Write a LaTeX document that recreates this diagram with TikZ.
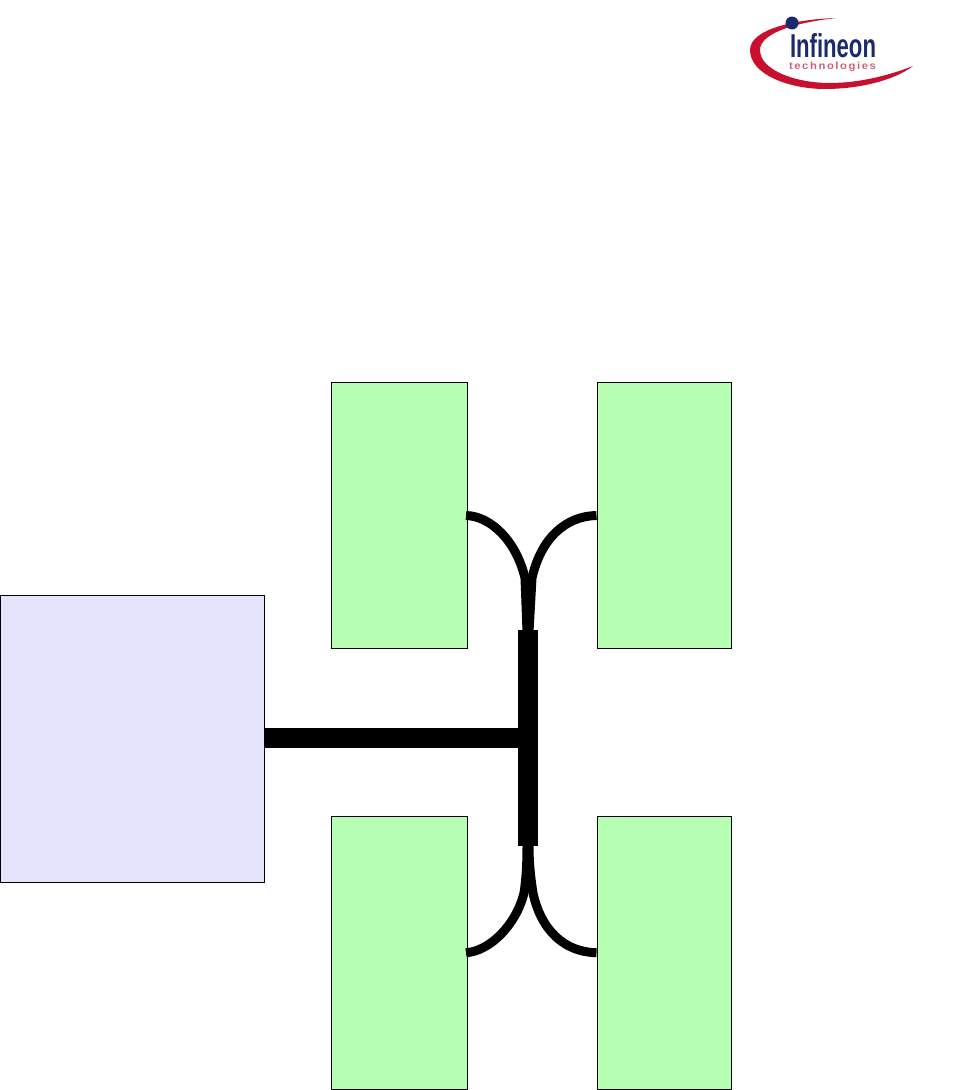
\documentclass[tikz,border=0pt]{standalone}
\usepackage{graphicx}
\usepackage{fontspec}
\setmainfont{Liberation Sans}
\definecolor{mem}{HTML}{B7FFB3}
\definecolor{ctl}{HTML}{E4E4FD}
\definecolor{ifxred}{HTML}{C8102E}
\definecolor{ifxblue}{HTML}{1A2A6C}
\definecolor{ifxtext}{HTML}{D0607A}
\tikzset{
  panel/.style={draw=black,line width=1pt,inner sep=0pt,outer sep=0pt,anchor=north west},
  membox/.style={panel,fill=mem},
  ctlbox/.style={panel,fill=ctl},
  busbar/.style={fill=black,inner sep=0pt,outer sep=0pt,minimum width=20pt,minimum height=216pt},
  mainbus/.style={line width=20pt},
  branch/.style={line width=9pt,line cap=butt,line join=round},
}
\begin{document}
\begin{tikzpicture}[x=1pt,y=-1pt]
\useasboundingbox (0,0) rectangle (955,1090);
\node[ctlbox,minimum width=264pt,minimum height=287pt] (ctrl) at (0.5,595.5) {};
\node[membox,minimum width=136pt,minimum height=266pt] (m1) at (331.5,382.5) {};
\node[membox,minimum width=134pt,minimum height=266pt] (m2) at (597.5,382.5) {};
\node[membox,minimum width=136pt,minimum height=272.5pt] (m3) at (331.5,816.5) {};
\node[membox,minimum width=134pt,minimum height=272.5pt] (m4) at (597.5,816.5) {};
\node[busbar] (bar) at (528,738) {};
\coordinate (topl) at (527,632);
\coordinate (topr) at (529,632);
\coordinate (botl) at (527,846);
\coordinate (botr) at (529,846);
\draw[mainbus] (ctrl.east |- bar.west) -- (bar.west);
\draw[branch] ([xshift=-1.5pt]m1.east) .. controls (490,516) and (516,540) .. (525,578) -- (topl);
\draw[branch] ([xshift=-1pt]m2.west) .. controls (566,516) and (541,538) .. (532,578) -- (topr);
\draw[branch] ([xshift=-1.5pt]m3.east) .. controls (490,951) and (516,925) .. (524,893) .. controls (526,880) and (527,865) .. (botl);
\draw[branch] ([xshift=-1pt]m4.west) .. controls (564,952) and (541,930) .. (533,893) .. controls (531,880) and (529,865) .. (botr);
% logo
\fill[ifxred] (836,18) .. controls (800,19) and (750,28) .. (750,50)
  .. controls (750,75) and (790,89) .. (825,89)
  .. controls (860,89) and (895,80) .. (913,66)
  .. controls (890,75) and (860,83) .. (830,83)
  .. controls (795,83) and (760,70) .. (760,50)
  .. controls (760,32) and (800,22) .. (836,18) -- cycle;
\fill[ifxblue] (792,23) circle (6.5pt);
\node[inner sep=0pt,text=ifxblue] (logoa) at (833,45.5) {\resizebox{86pt}{24pt}{\bfseries Infineon}};
\node[inner sep=0pt,text=ifxtext] (logob) at (832.5,66.5) {\resizebox{87pt}{7.5pt}{\bfseries\addfontfeatures{LetterSpace=14}technologies}};
\end{tikzpicture}
\end{document}
